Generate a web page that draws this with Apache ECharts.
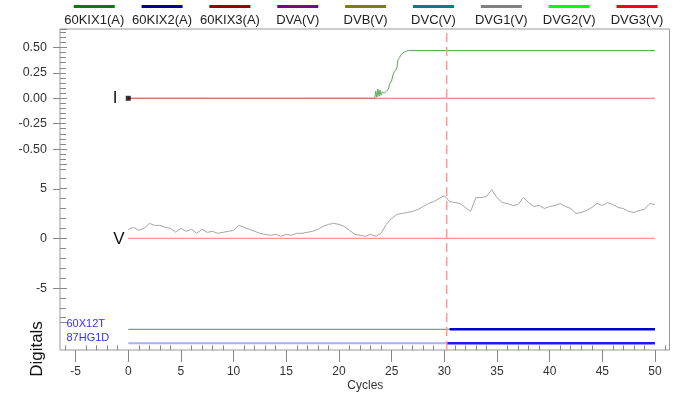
<!DOCTYPE html>
<html>
<head>
<meta charset="utf-8">
<script src="https://cdn.jsdelivr.net/npm/echarts@6/dist/echarts.min.js"></script>
<style>
html, body { margin: 0; padding: 0; background: #fff; }
#main { width: 673px; height: 394px; }
</style>
</head>
<body>
<div id="main"></div>
<script>
var FONT = 'Liberation Sans, Arial, sans-serif';

// legend / analog channels
var legendNames = ['60KIX1(A)', '60KIX2(A)', '60KIX3(A)', 'DVA(V)', 'DVB(V)', 'DVC(V)', 'DVG1(V)', 'DVG2(V)', 'DVG3(V)'];
var legendColors = ['#008000', '#000099', '#990000', '#800080', '#808000', '#008080', '#808080', '#00ff00', '#ff0000'];
// how the traces look on screen (thin, anti-aliased)
var traceColors = ['#5aa85a', '#6a6ad0', '#d87070', '#b070b0', '#b0b060', '#60b0b0', '#a6a6a6', '#70ff70', '#ff7a7a'];
// flat traces that lie fully under another one
var covered = ['60KIX2(A)', 'DVA(V)', 'DVB(V)', 'DVC(V)', 'DVG2(V)'];

// I panel, 60KIX1(A)
var kix1Cycles = [0, 23.4, 23.5, 23.6, 23.7, 23.8, 23.9, 24.0, 24.1, 24.3, 24.5, 24.7, 24.8, 24.9, 25.0, 25.1, 25.2, 25.35, 25.5, 25.6, 25.75, 25.9, 26.1, 26.3, 26.6, 50];
var kix1Values = [0, 0, 0.07, 0.01, 0.09, 0.02, 0.08, 0.03, 0.06, 0.05, 0.07, 0.09, 0.14, 0.15, 0.17, 0.22, 0.25, 0.27, 0.30, 0.38, 0.40, 0.43, 0.45, 0.46, 0.47, 0.47];

// flat channels
var zeroCycles = [0, 50];
var zeroValues = [0, 0];

// V panel, DVG1(V)
var dvg1Cycles = [0, 0.5, 1, 1.5, 2, 2.5, 3, 3.5, 4, 4.5, 5, 5.5, 6, 6.5, 7, 7.5, 8, 8.5, 9, 9.5,
  10, 10.5, 11, 11.5, 12, 12.5, 13, 13.5, 14, 14.5, 15, 15.5, 16, 16.5, 17, 17.5, 18, 18.5, 19, 19.5,
  20, 20.5, 21, 21.5, 22, 22.5, 23, 23.5, 24, 24.5, 25, 25.5, 26, 26.5, 27, 27.5, 28, 28.5, 29, 29.5,
  30, 30.5, 31, 31.5, 32, 32.5, 33, 33.5, 34, 34.5, 35, 35.5, 36, 36.5, 37, 37.5, 38, 38.5, 39, 39.5,
  40, 40.5, 41, 41.5, 42, 42.5, 43, 43.5, 44, 44.5, 45, 45.5, 46, 46.5, 47, 47.5, 48, 48.5, 49, 49.5, 50];
var dvg1Values = [0.9, 1.1, 0.8, 1.0, 1.5, 1.3, 1.3, 1.1, 1.0, 0.6, 1.0, 0.7, 0.9, 0.5, 0.9, 0.6, 0.7, 0.5, 0.6, 0.7,
  0.8, 1.3, 1.1, 0.9, 0.7, 0.5, 0.4, 0.3, 0.4, 0.2, 0.4, 0.3, 0.5, 0.5, 0.6, 0.7, 0.9, 1.2, 1.4, 1.5,
  1.4, 1.2, 0.8, 0.4, 0.3, 0.2, 0.4, 0.2, 0.5, 1.4, 2.0, 2.4, 2.5, 2.6, 2.7, 2.9, 3.2, 3.5, 3.7, 4.0,
  4.3, 3.7, 3.6, 3.5, 3.1, 2.7, 4.1, 4.1, 4.2, 4.9, 4.1, 3.6, 3.5, 3.3, 3.4, 4.1, 3.6, 3.2, 3.3, 3.0,
  3.2, 3.3, 3.5, 3.2, 3.0, 2.5, 2.6, 2.8, 3.1, 3.5, 3.3, 3.6, 3.4, 3.1, 3.0, 2.7, 2.6, 2.8, 2.9, 3.5, 3.4];

// digitals
var digitalNames = ['60X12T', '87HG1D'];
var digitalStart = [0, 0];
var digitalChange = [30.5, 30.23];
var digitalEnd = [50, 50];

// cursor, start marker
var cursorAt = 30.23;
var startMark = [0, 0];

// tick labels
var iTickMin = -0.5, iTickMax = 0.5, iTickStep = 0.25;
var vTickMin = -5, vTickMax = 5, vTickStep = 5;
var xTickMin = -5, xTickMax = 50, xTickStep = 5;

var X_MIN = -6.48, X_MAX = 51.38;

function pairs(xs, ys) {
  var out = [];
  for (var i = 0; i < xs.length; i++) out.push([xs[i], ys[i]]);
  return out;
}

var richStyles = { t: { width: 62.85, fontSize: 13, fontFamily: FONT, color: '#222', align: 'center', lineHeight: 18 } };
for (var i = 0; i < legendColors.length; i++) {
  richStyles['b' + i] = { width: 41, height: 3, backgroundColor: legendColors[i], align: 'center', lineHeight: 10 };
}

var tickColor = '#888';
function hiddenX(g) { return { gridIndex: g, type: 'value', show: false, min: X_MIN, max: X_MAX }; }
var noLine = { show: false, onZero: false };

function traceStyle(k) {
  return { width: 1, color: traceColors[k], opacity: covered.indexOf(legendNames[k]) >= 0 ? 0 : 1 };
}

var series = [];
// I panel
var iData = [pairs(kix1Cycles, kix1Values), pairs(zeroCycles, zeroValues), pairs(zeroCycles, zeroValues)];
for (var k = 0; k < 3; k++) {
  series.push({ name: legendNames[k], type: 'line', xAxisIndex: 1, yAxisIndex: 1, data: iData[k],
    symbol: 'none', color: legendColors[k], lineStyle: traceStyle(k) });
}
// V panel (DVG1 drawn before the flat DVG2 / DVG3)
for (var idx = 3; idx < 9; idx++) {
  series.push({ name: legendNames[idx], type: 'line', xAxisIndex: 2, yAxisIndex: 2,
    data: idx === 6 ? pairs(dvg1Cycles, dvg1Values) : pairs(zeroCycles, zeroValues),
    symbol: 'none', color: legendColors[idx], lineStyle: traceStyle(idx) });
}
series.push({ type: 'scatter', xAxisIndex: 1, yAxisIndex: 1, data: [startMark], symbol: 'rect', symbolSize: 5,
  itemStyle: { color: '#000' }, z: 5 });

// digitals
var preColors = ['#6a6ad8', '#aab0ff'];
var postColors = ['#0000cc', '#1a1aff'];
for (var d = 0; d < digitalNames.length; d++) {
  series.push({ type: 'line', xAxisIndex: 3, yAxisIndex: 3, symbol: 'none',
    data: [[digitalStart[d], digitalNames[d]], [digitalChange[d], digitalNames[d]]],
    lineStyle: { color: preColors[d], width: d === 0 ? 1 : 2 } });
  series.push({ type: 'line', xAxisIndex: 3, yAxisIndex: 3, symbol: 'none',
    data: [[digitalChange[d], digitalNames[d]], [digitalEnd[d], digitalNames[d]]],
    lineStyle: { color: postColors[d], width: 2.5 } });
}
// cursor
series.push({ type: 'line', xAxisIndex: 0, yAxisIndex: 0, symbol: 'none', z: 10,
  data: [[cursorAt, 0], [cursorAt, 1]],
  lineStyle: { color: '#ff9a9a', width: 1.5, type: [9, 5] } });

var option = {
  animation: false,
  backgroundColor: '#fff',
  textStyle: { fontFamily: FONT },
  legend: {
    data: legendNames,
    left: 57.8, top: 0.4, padding: 0,
    itemGap: 0, itemWidth: 0, itemHeight: 0, icon: 'none',
    selectedMode: false,
    formatter: function (name) {
      return '{b' + legendNames.indexOf(name) + '|}\n{t|' + name + '}';
    },
    textStyle: { rich: richStyles }
  },
  grid: [
    { left: 60, top: 29, width: 609.5, height: 321, show: true, borderColor: '#999', borderWidth: 1, backgroundColor: 'transparent' },
    { left: 60, top: 29, width: 609.5, height: 135.3 },
    { left: 60, top: 164.3, width: 609.5, height: 158 },
    { left: 60, top: 322.3, width: 609.5, height: 28 },
    { left: 60, top: 47.5, width: 609.5, height: 101.6 },
    { left: 60, top: 189, width: 609.5, height: 99.3 },
    { left: 75.6, top: 340, width: 579.4, height: 10 }
  ],
  xAxis: [
    hiddenX(0), hiddenX(1), hiddenX(2),
    { gridIndex: 3, type: 'value', min: X_MIN, max: X_MAX, splitNumber: 12,
      axisLine: noLine, axisLabel: { show: false }, splitLine: { show: false },
      axisTick: { inside: true, length: 7, lineStyle: { color: tickColor } },
      minorTick: { show: true, splitNumber: 5, length: 5, lineStyle: { color: tickColor } } },
    { gridIndex: 4, type: 'value', show: false, min: 0, max: 1 },
    { gridIndex: 5, type: 'value', show: false, min: 0, max: 1 },
    { gridIndex: 6, type: 'value', min: xTickMin, max: xTickMax, interval: xTickStep,
      axisLine: noLine, splitLine: { show: false },
      axisTick: { length: 12, lineStyle: { color: tickColor } },
      axisLabel: { margin: 16, fontSize: 12, color: '#333', fontFamily: FONT },
      name: 'Cycles', nameLocation: 'middle', nameGap: 30,
      nameTextStyle: { fontSize: 12, color: '#333', fontFamily: FONT } }
  ],
  yAxis: [
    { gridIndex: 0, type: 'value', show: false, min: 0, max: 1, axisLine: noLine },
    { gridIndex: 1, type: 'value', min: -0.65, max: 0.682, splitNumber: 3,
      axisLine: noLine, axisLabel: { show: false }, splitLine: { show: false },
      axisTick: { inside: true, length: 7, lineStyle: { color: tickColor } },
      minorTick: { show: true, splitNumber: 10, length: 6, lineStyle: { color: tickColor } } },
    { gridIndex: 2, type: 'value', min: -8.46, max: 7.45, splitNumber: 3,
      axisLine: noLine, axisLabel: { show: false }, splitLine: { show: false },
      axisTick: { inside: true, length: 7, lineStyle: { color: tickColor } },
      minorTick: { show: true, splitNumber: 5, length: 6, lineStyle: { color: tickColor } } },
    { gridIndex: 3, type: 'category', data: digitalNames.slice().reverse(),
      axisLine: noLine, splitLine: { show: false },
      axisTick: { inside: true, alignWithLabel: true, length: 5, lineStyle: { color: tickColor } },
      axisLabel: { inside: true, interval: 0, margin: 6.5, verticalAlign: 'bottom', color: '#3333ee', fontSize: 11, fontFamily: FONT } },
    { gridIndex: 4, type: 'value', min: iTickMin, max: iTickMax, interval: iTickStep,
      axisLine: noLine, splitLine: { show: false },
      axisTick: { length: 7, lineStyle: { color: tickColor } },
      axisLabel: { margin: 13, fontSize: 12.5, color: '#333', fontFamily: FONT,
        formatter: function (v) { return v.toFixed(2); } } },
    { gridIndex: 5, type: 'value', min: vTickMin, max: vTickMax, interval: vTickStep,
      axisLine: noLine, splitLine: { show: false },
      axisTick: { length: 7, lineStyle: { color: tickColor } },
      axisLabel: { margin: 13, fontSize: 12.5, color: '#333', fontFamily: FONT } },
    { gridIndex: 6, type: 'value', show: false, min: 0, max: 1 }
  ],
  graphic: [
    { type: 'text', x: 115, y: 98, style: { text: 'I', font: '17px ' + FONT, fill: '#111', textAlign: 'center', textVerticalAlign: 'middle' } },
    { type: 'text', x: 119, y: 239, style: { text: 'V', font: '17px ' + FONT, fill: '#111', textAlign: 'center', textVerticalAlign: 'middle' } },
    { type: 'text', x: 37, y: 349, rotation: Math.PI / 2, style: { text: 'Digitals', font: '17px ' + FONT, fill: '#111', textAlign: 'center', textVerticalAlign: 'middle' } }
  ],
  series: series
};

var chart = echarts.init(document.getElementById('main'));
chart.setOption(option);
</script>
</body>
</html>
